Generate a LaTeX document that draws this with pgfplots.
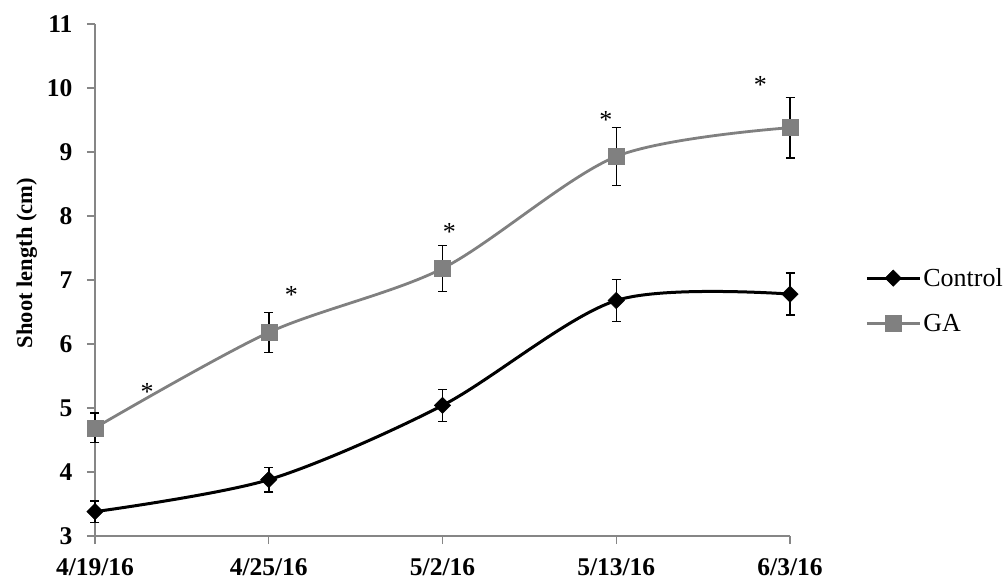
\documentclass[border=0pt]{standalone}
\usepackage{pgfplots}
\pgfplotsset{compat=1.18}
\usepackage{fontspec}
\setmainfont{Liberation Serif}
\definecolor{gaGray}{RGB}{128,128,128}
\definecolor{axGray}{RGB}{134,134,134}
\begin{document}
\begin{tikzpicture}
\begin{axis}[
  scale only axis, width=695pt, height=512pt,
  xmin=0, xmax=4, ymin=3, ymax=11,
  axis lines*=left, axis line style={axGray, line width=1.2pt, -},
  xtick={0,1,2,3,4}, xticklabels={4/19/16,4/25/16,5/2/16,5/13/16,6/3/16},
  ytick={3,4,5,6,7,8,9,10,11},
  tick align=outside, major tick length=8pt, tick style={axGray, line width=1.2pt},
  ticklabel style={font=\fontsize{25.5}{26}\selectfont\bfseries},
  yticklabel style={xshift=-11pt},
  xticklabel style={yshift=-11pt},
  /pgf/number format/assume math mode=true,
  ylabel={Shoot length (cm)},
  ylabel style={at={(axis description cs:-0.098,0.533)}, anchor=center, font=\fontsize{22.5}{23}\selectfont\bfseries},
  legend style={at={(axis description cs:1.108,0.46)}, anchor=west, draw=none, fill=none, font=\fontsize{26}{26}\selectfont, row sep=22pt, inner sep=0pt},
  legend cell align=left,
  legend image code/.code={\draw[#1, mark repeat=2, mark phase=2] plot coordinates {(0pt,0pt) (26.5pt,0pt) (53pt,0pt)};},
  clip=false,
  error bars/error bar style={black, line width=1.5pt},
  error bars/error mark options={rotate=90, mark size=4.5pt, black, line width=1.5pt},
]
\addplot[black, line width=3pt, smooth, mark=square*, mark size=5.8pt,
  mark options={rotate=45, fill=black, draw=black, line width=0.5pt},
  error bars/.cd, y dir=both, y explicit]
  table[x=x, y=y, y error=e] {
x y e
0 3.38 0.17
1 3.88 0.19
2 5.04 0.25
3 6.68 0.33
4 6.78 0.33
};
\addlegendentry{Control}
\addplot[gaGray, line width=2.8pt, smooth, mark=square*, mark size=8pt,
  mark options={fill=gaGray, draw=gaGray, line width=0.5pt},
  error bars/.cd, y dir=both, y explicit]
  table[x=x, y=y, y error=e] {
x y e
0 4.69 0.23
1 6.18 0.31
2 7.18 0.36
3 8.93 0.45
4 9.38 0.47
};
\addlegendentry{GA}
\node[font=\fontsize{26}{26}\selectfont, inner sep=0pt] at (axis cs:0.30,5.25) {*};
\node[font=\fontsize{26}{26}\selectfont, inner sep=0pt] at (axis cs:1.13,6.77) {*};
\node[font=\fontsize{26}{26}\selectfont, inner sep=0pt] at (axis cs:2.04,7.75) {*};
\node[font=\fontsize{26}{26}\selectfont, inner sep=0pt] at (axis cs:2.94,9.50) {*};
\node[font=\fontsize{26}{26}\selectfont, inner sep=0pt] at (axis cs:3.83,10.05) {*};
\end{axis}
\pgfresetboundingbox
\path ([shift={(-95pt,-44pt)}]current axis.south west) rectangle ([shift={(214pt,24pt)}]current axis.north east);
\end{tikzpicture}
\end{document}
